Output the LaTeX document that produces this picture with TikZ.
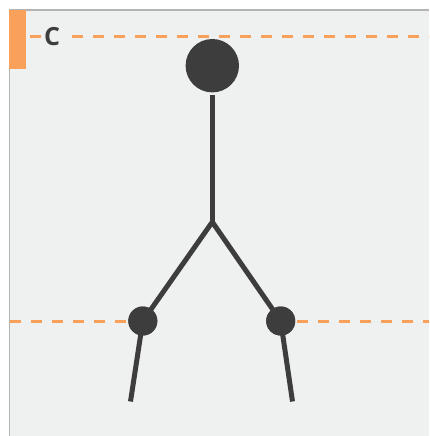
\documentclass[tikz,border=0pt]{standalone}
\usepackage{fontspec}
\setmainfont{Open Sans}
\definecolor{bgc}{HTML}{EFF1F0}
\definecolor{ink}{HTML}{3D3D3D}
\definecolor{accent}{HTML}{F9A05A}
\definecolor{frame}{HTML}{B4B4B4}
\begin{document}
\begin{tikzpicture}[x=1pt,y=-1pt,
  joint/.style={circle,fill=ink,draw=none,inner sep=0pt},
  limb/.style={draw=ink,line width=5pt},
  guide/.style={draw=accent,line width=3pt,dash pattern=on 10.5pt off 10.5pt},
  label/.style={font=\bfseries\fontsize{25}{27}\selectfont,text=ink,fill=bgc,inner xsep=3pt,inner ysep=1.5pt}]
\useasboundingbox (0,0) rectangle (429,436);
\fill[white] (0,0) rectangle (429,436);
\fill[bgc] (9.5,10) rectangle (429,436);
\draw[frame,line width=1.5pt] (9.5,436) -- (9.5,10) -- (429,10);
\fill[accent] (9,10) rectangle (26,69);
% guide lines
\coordinate (g1a) at (30,37);
\coordinate (g1b) at (429,37);
\draw[guide] (g1a) -- (g1b);
\node[label] (c) at (52,36.5) {C};
% skeleton nodes
\node[joint,minimum size=53.4pt,outer sep=2.5pt] (top) at (212.3,65.7) {};
\coordinate (fork) at (212.3,222);
\node[joint,minimum size=29pt] (l) at (142.8,321) {};
\node[joint,minimum size=29pt] (r) at (280.7,321) {};
\coordinate (lend) at (130.5,401.5);
\coordinate (rend) at (292.5,401.5);
\coordinate (g2a) at (10,321);
\coordinate (g2b) at (429,321);
\draw[guide] (g2a) -- (l.west);
\draw[guide,dash phase=-1.7pt] (r.east) -- (g2b);
\draw[limb] (top) -- (fork);
\draw[limb,line join=miter] (l.center) -- (fork) -- (r.center);
\draw[limb] (l.center) -- (lend);
\draw[limb] (r.center) -- (rend);
\node[joint,minimum size=29pt] at (l) {};
\node[joint,minimum size=29pt] at (r) {};
\end{tikzpicture}
\end{document}
